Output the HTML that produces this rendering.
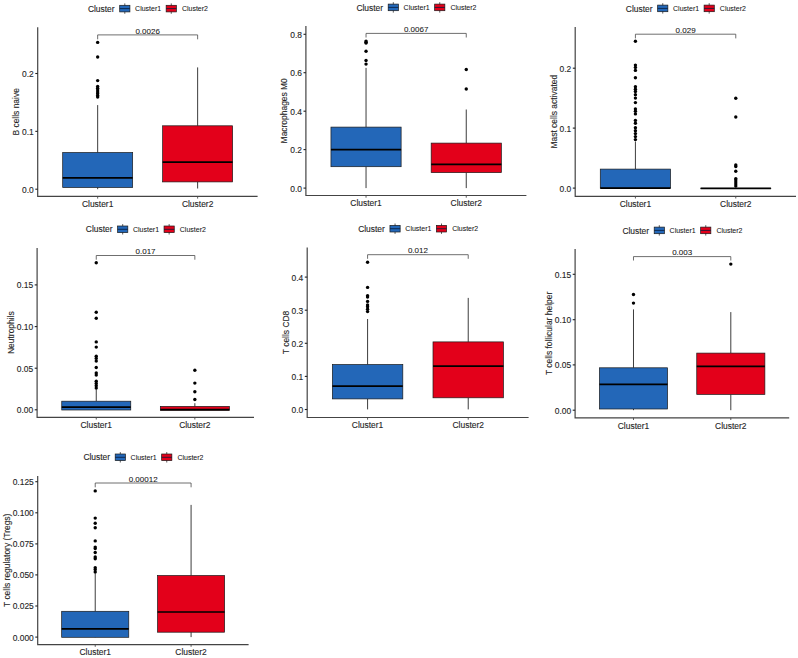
<!DOCTYPE html>
<html><head><meta charset="utf-8"><style>
html,body{margin:0;padding:0;background:#fff;}
body{width:798px;height:658px;overflow:hidden;}
svg{display:block;}
text{font-family:"Liberation Sans",sans-serif;fill:#262626;stroke:#262626;stroke-width:0.12px;}
text.s{fill:#151515;stroke:#151515;stroke-width:0.06px;}
</style></head><body>
<div id="w"><svg width="798" height="658" viewBox="0 0 798 658">
<rect width="798" height="658" fill="#fff"/>
<g><path d="M37.7 27.3V196.4H257.6" fill="none" stroke="#444" stroke-width="1.2"/><path d="M35.3 189.2H37.7" stroke="#222" stroke-width="1.1"/><text x="33.8" y="192.6" text-anchor="end" font-size="8.45">0.0</text><path d="M35.3 131.35H37.7" stroke="#222" stroke-width="1.1"/><text x="33.8" y="134.75" text-anchor="end" font-size="8.45">0.1</text><path d="M35.3 73.5H37.7" stroke="#222" stroke-width="1.1"/><text x="33.8" y="76.9" text-anchor="end" font-size="8.45">0.2</text><path d="M97.67 196.4V198.6" stroke="#4a4a4a" stroke-width="0.9"/><text x="97.67" y="207.1" text-anchor="middle" font-size="8.45">Cluster1</text><path d="M197.63 196.4V198.6" stroke="#4a4a4a" stroke-width="0.9"/><text x="197.63" y="207.1" text-anchor="middle" font-size="8.45">Cluster2</text><text transform="translate(19.1 111.85) rotate(-90)" text-anchor="middle" font-size="8.45">B cells naive</text><path d="M97.67 105.1V152.5M97.67 187.5V189.2" stroke="#1a1a1a" stroke-width="0.85"/><rect x="62.69" y="152.5" width="69.97" height="35" fill="#2367B8" stroke="#1a1a1a" stroke-width="0.7"/><path d="M62.69 177.9H132.66" stroke="#000" stroke-width="1.7"/><circle cx="97.67" cy="42.4" r="1.7" fill="#000"/><circle cx="97.67" cy="57" r="1.7" fill="#000"/><circle cx="97.67" cy="80.6" r="1.7" fill="#000"/><circle cx="97.67" cy="86.5" r="1.7" fill="#000"/><circle cx="97.67" cy="88.3" r="1.7" fill="#000"/><circle cx="97.67" cy="90.1" r="1.7" fill="#000"/><circle cx="97.67" cy="92" r="1.7" fill="#000"/><circle cx="97.67" cy="93.8" r="1.7" fill="#000"/><circle cx="97.67" cy="95.6" r="1.7" fill="#000"/><circle cx="97.67" cy="97" r="1.7" fill="#000"/><path d="M197.63 67.4V125.8M197.63 181.9V188.5" stroke="#1a1a1a" stroke-width="0.85"/><rect x="162.64" y="125.8" width="69.97" height="56.1" fill="#E3001A" stroke="#1a1a1a" stroke-width="0.7"/><path d="M162.64 162.2H232.61" stroke="#000" stroke-width="1.7"/><path d="M97.67 39.3V34.9H197.63V39.3" fill="none" stroke="#4a4a4a" stroke-width="0.8"/><text x="147.65" y="33.5" text-anchor="middle" font-size="8.0" class="s">0.0026</text><text x="87.9" y="11.7" font-size="8.45">Cluster</text><path d="M124.8 3.4V13.8" stroke="#4a4a4a" stroke-width="0.9"/><rect x="119.7" y="5.3" width="10.2" height="6.6" fill="#2367B8" stroke="#1a1a1a" stroke-width="0.7"/><path d="M119.7 8.6H129.9" stroke="#061a3a" stroke-width="0.8"/><text x="135.1" y="11.2" font-size="7.0" class="s">Cluster1</text><path d="M171.25 3.4V13.8" stroke="#4a4a4a" stroke-width="0.9"/><rect x="166.15" y="5.3" width="10.2" height="6.6" fill="#E3001A" stroke="#1a1a1a" stroke-width="0.7"/><path d="M166.15 8.6H176.35" stroke="#061a3a" stroke-width="0.8"/><text x="181.9" y="11.2" font-size="7.0" class="s">Cluster2</text></g>
<g><path d="M305.9 26.1V195.5H526.4" fill="none" stroke="#444" stroke-width="1.2"/><path d="M303.5 188.1H305.9" stroke="#222" stroke-width="1.1"/><text x="302" y="191.5" text-anchor="end" font-size="8.45">0.0</text><path d="M303.5 149.6H305.9" stroke="#222" stroke-width="1.1"/><text x="302" y="153" text-anchor="end" font-size="8.45">0.2</text><path d="M303.5 111.2H305.9" stroke="#222" stroke-width="1.1"/><text x="302" y="114.6" text-anchor="end" font-size="8.45">0.4</text><path d="M303.5 72.7H305.9" stroke="#222" stroke-width="1.1"/><text x="302" y="76.1" text-anchor="end" font-size="8.45">0.6</text><path d="M303.5 34.3H305.9" stroke="#222" stroke-width="1.1"/><text x="302" y="37.7" text-anchor="end" font-size="8.45">0.8</text><path d="M366.04 195.5V197.7" stroke="#4a4a4a" stroke-width="0.9"/><text x="366.04" y="206.2" text-anchor="middle" font-size="8.45">Cluster1</text><path d="M466.26 195.5V197.7" stroke="#4a4a4a" stroke-width="0.9"/><text x="466.26" y="206.2" text-anchor="middle" font-size="8.45">Cluster2</text><text transform="translate(287.3 110.8) rotate(-90)" text-anchor="middle" font-size="8.45">Macrophages M0</text><path d="M366.04 67.9V127.1M366.04 166.7V188.1" stroke="#1a1a1a" stroke-width="0.85"/><rect x="330.96" y="127.1" width="70.16" height="39.6" fill="#2367B8" stroke="#1a1a1a" stroke-width="0.7"/><path d="M330.96 149.6H401.12" stroke="#000" stroke-width="1.7"/><circle cx="366.04" cy="41.1" r="1.7" fill="#000"/><circle cx="366.04" cy="42.2" r="1.7" fill="#000"/><circle cx="366.04" cy="43.1" r="1.7" fill="#000"/><circle cx="366.04" cy="51.2" r="1.7" fill="#000"/><circle cx="366.04" cy="60.5" r="1.7" fill="#000"/><circle cx="366.04" cy="64.1" r="1.7" fill="#000"/><path d="M466.26 109.5V143.1M466.26 172.6V188.1" stroke="#1a1a1a" stroke-width="0.85"/><rect x="431.18" y="143.1" width="70.16" height="29.5" fill="#E3001A" stroke="#1a1a1a" stroke-width="0.7"/><path d="M431.18 164.4H501.34" stroke="#000" stroke-width="1.7"/><circle cx="466.26" cy="69.5" r="1.7" fill="#000"/><circle cx="466.26" cy="89" r="1.7" fill="#000"/><path d="M366.04 37.5V33.4H466.26V37.5" fill="none" stroke="#4a4a4a" stroke-width="0.8"/><text x="416.15" y="32" text-anchor="middle" font-size="8.0" class="s">0.0067</text><text x="356.4" y="10.5" font-size="8.45">Cluster</text><path d="M393.3 2.2V12.6" stroke="#4a4a4a" stroke-width="0.9"/><rect x="388.2" y="4.1" width="10.2" height="6.6" fill="#2367B8" stroke="#1a1a1a" stroke-width="0.7"/><path d="M388.2 7.4H398.4" stroke="#061a3a" stroke-width="0.8"/><text x="403.6" y="10" font-size="7.0" class="s">Cluster1</text><path d="M439.75 2.2V12.6" stroke="#4a4a4a" stroke-width="0.9"/><rect x="434.65" y="4.1" width="10.2" height="6.6" fill="#E3001A" stroke="#1a1a1a" stroke-width="0.7"/><path d="M434.65 7.4H444.85" stroke="#061a3a" stroke-width="0.8"/><text x="450.4" y="10" font-size="7.0" class="s">Cluster2</text></g>
<g><path d="M575.2 27.1V196.3H796" fill="none" stroke="#444" stroke-width="1.2"/><path d="M572.8 188.1H575.2" stroke="#222" stroke-width="1.1"/><text x="571.3" y="191.5" text-anchor="end" font-size="8.45">0.0</text><path d="M572.8 128.1H575.2" stroke="#222" stroke-width="1.1"/><text x="571.3" y="131.5" text-anchor="end" font-size="8.45">0.1</text><path d="M572.8 68.2H575.2" stroke="#222" stroke-width="1.1"/><text x="571.3" y="71.6" text-anchor="end" font-size="8.45">0.2</text><path d="M635.42 196.3V198.5" stroke="#4a4a4a" stroke-width="0.9"/><text x="635.42" y="207" text-anchor="middle" font-size="8.45">Cluster1</text><path d="M735.78 196.3V198.5" stroke="#4a4a4a" stroke-width="0.9"/><text x="735.78" y="207" text-anchor="middle" font-size="8.45">Cluster2</text><text transform="translate(556.6 111.7) rotate(-90)" text-anchor="middle" font-size="8.45">Mast cells activated</text><path d="M635.42 141.5V169.1M635.42 188.1V188.1" stroke="#1a1a1a" stroke-width="0.85"/><rect x="600.29" y="169.1" width="70.25" height="19" fill="#2367B8" stroke="#1a1a1a" stroke-width="0.7"/><path d="M600.29 188.1H670.55" stroke="#000" stroke-width="1.7"/><circle cx="635.42" cy="41.3" r="1.7" fill="#000"/><circle cx="635.42" cy="65.1" r="1.7" fill="#000"/><circle cx="635.42" cy="67.4" r="1.7" fill="#000"/><circle cx="635.42" cy="70.4" r="1.7" fill="#000"/><circle cx="635.42" cy="77.7" r="1.7" fill="#000"/><circle cx="635.42" cy="86.8" r="1.7" fill="#000"/><circle cx="635.42" cy="89.2" r="1.7" fill="#000"/><circle cx="635.42" cy="91.5" r="1.7" fill="#000"/><circle cx="635.42" cy="94.7" r="1.7" fill="#000"/><circle cx="635.42" cy="98.1" r="1.7" fill="#000"/><circle cx="635.42" cy="102.6" r="1.7" fill="#000"/><circle cx="635.42" cy="108.9" r="1.7" fill="#000"/><circle cx="635.42" cy="111.3" r="1.7" fill="#000"/><circle cx="635.42" cy="113.9" r="1.7" fill="#000"/><circle cx="635.42" cy="120.4" r="1.7" fill="#000"/><circle cx="635.42" cy="123.2" r="1.7" fill="#000"/><circle cx="635.42" cy="127.7" r="1.7" fill="#000"/><circle cx="635.42" cy="130.7" r="1.7" fill="#000"/><circle cx="635.42" cy="133.6" r="1.7" fill="#000"/><circle cx="635.42" cy="136.6" r="1.7" fill="#000"/><circle cx="635.42" cy="139.6" r="1.7" fill="#000"/><path d="M735.78 188.3V188.3M735.78 188.3V188.3" stroke="#1a1a1a" stroke-width="0.85"/><rect x="700.65" y="188.3" width="70.25" height="0.01" fill="#E3001A" stroke="#1a1a1a" stroke-width="0.7"/><path d="M700.65 188.3H770.91" stroke="#000" stroke-width="1.7"/><circle cx="735.78" cy="98.3" r="1.7" fill="#000"/><circle cx="735.78" cy="117" r="1.7" fill="#000"/><circle cx="735.78" cy="165" r="1.7" fill="#000"/><circle cx="735.78" cy="166.5" r="1.7" fill="#000"/><circle cx="735.78" cy="171.3" r="1.7" fill="#000"/><circle cx="735.78" cy="178.6" r="1.7" fill="#000"/><circle cx="735.78" cy="180.1" r="1.7" fill="#000"/><circle cx="735.78" cy="182.1" r="1.7" fill="#000"/><circle cx="735.78" cy="184.1" r="1.7" fill="#000"/><circle cx="735.78" cy="186.1" r="1.7" fill="#000"/><path d="M635.42 38.4V34.2H735.78V38.4" fill="none" stroke="#4a4a4a" stroke-width="0.8"/><text x="685.6" y="32.8" text-anchor="middle" font-size="8.0" class="s">0.029</text><text x="625.85" y="11.5" font-size="8.45">Cluster</text><path d="M662.75 3.2V13.6" stroke="#4a4a4a" stroke-width="0.9"/><rect x="657.65" y="5.1" width="10.2" height="6.6" fill="#2367B8" stroke="#1a1a1a" stroke-width="0.7"/><path d="M657.65 8.4H667.85" stroke="#061a3a" stroke-width="0.8"/><text x="673.05" y="11" font-size="7.0" class="s">Cluster1</text><path d="M709.2 3.2V13.6" stroke="#4a4a4a" stroke-width="0.9"/><rect x="704.1" y="5.1" width="10.2" height="6.6" fill="#E3001A" stroke="#1a1a1a" stroke-width="0.7"/><path d="M704.1 8.4H714.3" stroke="#061a3a" stroke-width="0.8"/><text x="719.85" y="11" font-size="7.0" class="s">Cluster2</text></g>
<g><path d="M37.1 248V417.3H254" fill="none" stroke="#444" stroke-width="1.2"/><path d="M34.7 409.8H37.1" stroke="#222" stroke-width="1.1"/><text x="33.2" y="413.2" text-anchor="end" font-size="8.45">0.00</text><path d="M34.7 368.2H37.1" stroke="#222" stroke-width="1.1"/><text x="33.2" y="371.6" text-anchor="end" font-size="8.45">0.05</text><path d="M34.7 326.6H37.1" stroke="#222" stroke-width="1.1"/><text x="33.2" y="330" text-anchor="end" font-size="8.45">0.10</text><path d="M34.7 284.9H37.1" stroke="#222" stroke-width="1.1"/><text x="33.2" y="288.3" text-anchor="end" font-size="8.45">0.15</text><path d="M96.25 417.3V419.5" stroke="#4a4a4a" stroke-width="0.9"/><text x="96.25" y="428" text-anchor="middle" font-size="8.45">Cluster1</text><path d="M194.85 417.3V419.5" stroke="#4a4a4a" stroke-width="0.9"/><text x="194.85" y="428" text-anchor="middle" font-size="8.45">Cluster2</text><text transform="translate(13.8 332.65) rotate(-90)" text-anchor="middle" font-size="8.45">Neutrophils</text><path d="M96.25 389.4V401.2M96.25 410V409.8" stroke="#1a1a1a" stroke-width="0.85"/><rect x="61.75" y="401.2" width="69.01" height="8.8" fill="#2367B8" stroke="#1a1a1a" stroke-width="0.7"/><path d="M61.75 407.2H130.76" stroke="#000" stroke-width="1.7"/><circle cx="96.25" cy="262.7" r="1.7" fill="#000"/><circle cx="96.25" cy="312.2" r="1.7" fill="#000"/><circle cx="96.25" cy="318.2" r="1.7" fill="#000"/><circle cx="96.25" cy="341.9" r="1.7" fill="#000"/><circle cx="96.25" cy="347.1" r="1.7" fill="#000"/><circle cx="96.25" cy="356.2" r="1.7" fill="#000"/><circle cx="96.25" cy="358.4" r="1.7" fill="#000"/><circle cx="96.25" cy="361.1" r="1.7" fill="#000"/><circle cx="96.25" cy="367.5" r="1.7" fill="#000"/><circle cx="96.25" cy="373" r="1.7" fill="#000"/><circle cx="96.25" cy="375.1" r="1.7" fill="#000"/><circle cx="96.25" cy="381.2" r="1.7" fill="#000"/><circle cx="96.25" cy="383.5" r="1.7" fill="#000"/><circle cx="96.25" cy="385.7" r="1.7" fill="#000"/><circle cx="96.25" cy="388.1" r="1.7" fill="#000"/><path d="M194.85 403.2V406.4M194.85 410.3V409.8" stroke="#1a1a1a" stroke-width="0.85"/><rect x="160.34" y="406.4" width="69.01" height="3.9" fill="#E3001A" stroke="#1a1a1a" stroke-width="0.7"/><path d="M160.34 409.6H229.35" stroke="#000" stroke-width="1.7"/><circle cx="194.85" cy="370.2" r="1.7" fill="#000"/><circle cx="194.85" cy="383.1" r="1.7" fill="#000"/><circle cx="194.85" cy="391.8" r="1.7" fill="#000"/><circle cx="194.85" cy="399.5" r="1.7" fill="#000"/><path d="M96.25 259.7V255.5H194.85V259.7" fill="none" stroke="#4a4a4a" stroke-width="0.8"/><text x="145.55" y="254.1" text-anchor="middle" font-size="8.0" class="s">0.017</text><text x="85.8" y="232.4" font-size="8.45">Cluster</text><path d="M122.7 224.1V234.5" stroke="#4a4a4a" stroke-width="0.9"/><rect x="117.6" y="226" width="10.2" height="6.6" fill="#2367B8" stroke="#1a1a1a" stroke-width="0.7"/><path d="M117.6 229.3H127.8" stroke="#061a3a" stroke-width="0.8"/><text x="133" y="231.9" font-size="7.0" class="s">Cluster1</text><path d="M169.15 224.1V234.5" stroke="#4a4a4a" stroke-width="0.9"/><rect x="164.05" y="226" width="10.2" height="6.6" fill="#E3001A" stroke="#1a1a1a" stroke-width="0.7"/><path d="M164.05 229.3H174.25" stroke="#061a3a" stroke-width="0.8"/><text x="179.8" y="231.9" font-size="7.0" class="s">Cluster2</text></g>
<g><path d="M307.2 247.4V417.5H528.6" fill="none" stroke="#444" stroke-width="1.2"/><path d="M304.8 409.5H307.2" stroke="#222" stroke-width="1.1"/><text x="303.3" y="412.9" text-anchor="end" font-size="8.45">0.0</text><path d="M304.8 376.4H307.2" stroke="#222" stroke-width="1.1"/><text x="303.3" y="379.8" text-anchor="end" font-size="8.45">0.1</text><path d="M304.8 343.3H307.2" stroke="#222" stroke-width="1.1"/><text x="303.3" y="346.7" text-anchor="end" font-size="8.45">0.2</text><path d="M304.8 310.2H307.2" stroke="#222" stroke-width="1.1"/><text x="303.3" y="313.6" text-anchor="end" font-size="8.45">0.3</text><path d="M304.8 277.1H307.2" stroke="#222" stroke-width="1.1"/><text x="303.3" y="280.5" text-anchor="end" font-size="8.45">0.4</text><path d="M367.58 417.5V419.7" stroke="#4a4a4a" stroke-width="0.9"/><text x="367.58" y="428.2" text-anchor="middle" font-size="8.45">Cluster1</text><path d="M468.22 417.5V419.7" stroke="#4a4a4a" stroke-width="0.9"/><text x="468.22" y="428.2" text-anchor="middle" font-size="8.45">Cluster2</text><text transform="translate(288.6 332.45) rotate(-90)" text-anchor="middle" font-size="8.45">T cells CD8</text><path d="M367.58 319V364.5M367.58 398.9V409.4" stroke="#1a1a1a" stroke-width="0.85"/><rect x="332.36" y="364.5" width="70.45" height="34.4" fill="#2367B8" stroke="#1a1a1a" stroke-width="0.7"/><path d="M332.36 386.2H402.8" stroke="#000" stroke-width="1.7"/><circle cx="367.58" cy="262.3" r="1.7" fill="#000"/><circle cx="367.58" cy="287.4" r="1.7" fill="#000"/><circle cx="367.58" cy="295.8" r="1.7" fill="#000"/><circle cx="367.58" cy="297" r="1.7" fill="#000"/><circle cx="367.58" cy="301.4" r="1.7" fill="#000"/><circle cx="367.58" cy="304.9" r="1.7" fill="#000"/><circle cx="367.58" cy="306.7" r="1.7" fill="#000"/><circle cx="367.58" cy="309.3" r="1.7" fill="#000"/><circle cx="367.58" cy="311.6" r="1.7" fill="#000"/><path d="M468.22 297.9V341.9M468.22 397.8V409.4" stroke="#1a1a1a" stroke-width="0.85"/><rect x="433" y="341.9" width="70.45" height="55.9" fill="#E3001A" stroke="#1a1a1a" stroke-width="0.7"/><path d="M433 366.1H503.44" stroke="#000" stroke-width="1.7"/><path d="M367.58 258.8V254.7H468.22V258.8" fill="none" stroke="#4a4a4a" stroke-width="0.8"/><text x="417.9" y="253.3" text-anchor="middle" font-size="8.0" class="s">0.012</text><text x="358.15" y="231.8" font-size="8.45">Cluster</text><path d="M395.05 223.5V233.9" stroke="#4a4a4a" stroke-width="0.9"/><rect x="389.95" y="225.4" width="10.2" height="6.6" fill="#2367B8" stroke="#1a1a1a" stroke-width="0.7"/><path d="M389.95 228.7H400.15" stroke="#061a3a" stroke-width="0.8"/><text x="405.35" y="231.3" font-size="7.0" class="s">Cluster1</text><path d="M441.5 223.5V233.9" stroke="#4a4a4a" stroke-width="0.9"/><rect x="436.4" y="225.4" width="10.2" height="6.6" fill="#E3001A" stroke="#1a1a1a" stroke-width="0.7"/><path d="M436.4 228.7H446.6" stroke="#061a3a" stroke-width="0.8"/><text x="452.15" y="231.3" font-size="7.0" class="s">Cluster2</text></g>
<g><path d="M575.1 249.1V417.8H789.2" fill="none" stroke="#444" stroke-width="1.2"/><path d="M572.7 410.2H575.1" stroke="#222" stroke-width="1.1"/><text x="571.2" y="413.6" text-anchor="end" font-size="8.45">0.00</text><path d="M572.7 364.9H575.1" stroke="#222" stroke-width="1.1"/><text x="571.2" y="368.3" text-anchor="end" font-size="8.45">0.05</text><path d="M572.7 319.7H575.1" stroke="#222" stroke-width="1.1"/><text x="571.2" y="323.1" text-anchor="end" font-size="8.45">0.10</text><path d="M572.7 274.3H575.1" stroke="#222" stroke-width="1.1"/><text x="571.2" y="277.7" text-anchor="end" font-size="8.45">0.15</text><path d="M633.49 417.8V420" stroke="#4a4a4a" stroke-width="0.9"/><text x="633.49" y="428.5" text-anchor="middle" font-size="8.45">Cluster1</text><path d="M730.81 417.8V420" stroke="#4a4a4a" stroke-width="0.9"/><text x="730.81" y="428.5" text-anchor="middle" font-size="8.45">Cluster2</text><text transform="translate(551.8 333.45) rotate(-90)" text-anchor="middle" font-size="8.45">T cells follicular helper</text><path d="M633.49 309.4V367.8M633.49 409V410.2" stroke="#1a1a1a" stroke-width="0.85"/><rect x="599.43" y="367.8" width="68.12" height="41.2" fill="#2367B8" stroke="#1a1a1a" stroke-width="0.7"/><path d="M599.43 384.4H667.55" stroke="#000" stroke-width="1.7"/><circle cx="633.49" cy="294.5" r="1.7" fill="#000"/><circle cx="633.49" cy="303.1" r="1.7" fill="#000"/><path d="M730.81 312.1V353.1M730.81 394.4V410.2" stroke="#1a1a1a" stroke-width="0.85"/><rect x="696.75" y="353.1" width="68.12" height="41.3" fill="#E3001A" stroke="#1a1a1a" stroke-width="0.7"/><path d="M696.75 366.3H764.87" stroke="#000" stroke-width="1.7"/><circle cx="730.81" cy="264.1" r="1.7" fill="#000"/><path d="M633.49 260.5V256.6H730.81V260.5" fill="none" stroke="#4a4a4a" stroke-width="0.8"/><text x="682.15" y="255.2" text-anchor="middle" font-size="8.0" class="s">0.003</text><text x="622.4" y="233.5" font-size="8.45">Cluster</text><path d="M659.3 225.2V235.6" stroke="#4a4a4a" stroke-width="0.9"/><rect x="654.2" y="227.1" width="10.2" height="6.6" fill="#2367B8" stroke="#1a1a1a" stroke-width="0.7"/><path d="M654.2 230.4H664.4" stroke="#061a3a" stroke-width="0.8"/><text x="669.6" y="233" font-size="7.0" class="s">Cluster1</text><path d="M705.75 225.2V235.6" stroke="#4a4a4a" stroke-width="0.9"/><rect x="700.65" y="227.1" width="10.2" height="6.6" fill="#E3001A" stroke="#1a1a1a" stroke-width="0.7"/><path d="M700.65 230.4H710.85" stroke="#061a3a" stroke-width="0.8"/><text x="716.4" y="233" font-size="7.0" class="s">Cluster2</text></g>
<g><path d="M37.7 476V644.6H248.6" fill="none" stroke="#444" stroke-width="1.2"/><path d="M35.3 637.1H37.7" stroke="#222" stroke-width="1.1"/><text x="33.8" y="640.5" text-anchor="end" font-size="8.45">0.000</text><path d="M35.3 606H37.7" stroke="#222" stroke-width="1.1"/><text x="33.8" y="609.4" text-anchor="end" font-size="8.45">0.025</text><path d="M35.3 574.9H37.7" stroke="#222" stroke-width="1.1"/><text x="33.8" y="578.3" text-anchor="end" font-size="8.45">0.050</text><path d="M35.3 543.9H37.7" stroke="#222" stroke-width="1.1"/><text x="33.8" y="547.3" text-anchor="end" font-size="8.45">0.075</text><path d="M35.3 512.8H37.7" stroke="#222" stroke-width="1.1"/><text x="33.8" y="516.2" text-anchor="end" font-size="8.45">0.100</text><path d="M35.3 481.7H37.7" stroke="#222" stroke-width="1.1"/><text x="33.8" y="485.1" text-anchor="end" font-size="8.45">0.125</text><path d="M95.22 644.6V646.8" stroke="#4a4a4a" stroke-width="0.9"/><text x="95.22" y="655.3" text-anchor="middle" font-size="8.45">Cluster1</text><path d="M191.08 644.6V646.8" stroke="#4a4a4a" stroke-width="0.9"/><text x="191.08" y="655.3" text-anchor="middle" font-size="8.45">Cluster2</text><text transform="translate(9.7 560.3) rotate(-90)" text-anchor="middle" font-size="8.45">T cells regulatory (Tregs)</text><path d="M95.22 573V611.3M95.22 637.3V637.1" stroke="#1a1a1a" stroke-width="0.85"/><rect x="61.67" y="611.3" width="67.1" height="26" fill="#2367B8" stroke="#1a1a1a" stroke-width="0.7"/><path d="M61.67 628.9H128.77" stroke="#000" stroke-width="1.7"/><circle cx="95.22" cy="490.9" r="1.7" fill="#000"/><circle cx="95.22" cy="518.1" r="1.7" fill="#000"/><circle cx="95.22" cy="523.3" r="1.7" fill="#000"/><circle cx="95.22" cy="527.7" r="1.7" fill="#000"/><circle cx="95.22" cy="540.9" r="1.7" fill="#000"/><circle cx="95.22" cy="547.1" r="1.7" fill="#000"/><circle cx="95.22" cy="548.6" r="1.7" fill="#000"/><circle cx="95.22" cy="552.5" r="1.7" fill="#000"/><circle cx="95.22" cy="557" r="1.7" fill="#000"/><circle cx="95.22" cy="558.8" r="1.7" fill="#000"/><circle cx="95.22" cy="567.8" r="1.7" fill="#000"/><circle cx="95.22" cy="569.6" r="1.7" fill="#000"/><circle cx="95.22" cy="571.9" r="1.7" fill="#000"/><path d="M191.08 504.9V575.5M191.08 632.2V637.1" stroke="#1a1a1a" stroke-width="0.85"/><rect x="157.53" y="575.5" width="67.1" height="56.7" fill="#E3001A" stroke="#1a1a1a" stroke-width="0.7"/><path d="M157.53 612H224.63" stroke="#000" stroke-width="1.7"/><path d="M95.22 487.3V483H191.08V487.3" fill="none" stroke="#4a4a4a" stroke-width="0.8"/><text x="143.15" y="481.6" text-anchor="middle" font-size="8.0" class="s">0.00012</text><text x="83.4" y="460.4" font-size="8.45">Cluster</text><path d="M120.3 452.1V462.5" stroke="#4a4a4a" stroke-width="0.9"/><rect x="115.2" y="454" width="10.2" height="6.6" fill="#2367B8" stroke="#1a1a1a" stroke-width="0.7"/><path d="M115.2 457.3H125.4" stroke="#061a3a" stroke-width="0.8"/><text x="130.6" y="459.9" font-size="7.0" class="s">Cluster1</text><path d="M166.75 452.1V462.5" stroke="#4a4a4a" stroke-width="0.9"/><rect x="161.65" y="454" width="10.2" height="6.6" fill="#E3001A" stroke="#1a1a1a" stroke-width="0.7"/><path d="M161.65 457.3H171.85" stroke="#061a3a" stroke-width="0.8"/><text x="177.4" y="459.9" font-size="7.0" class="s">Cluster2</text></g>
</svg></div>
</body></html>
